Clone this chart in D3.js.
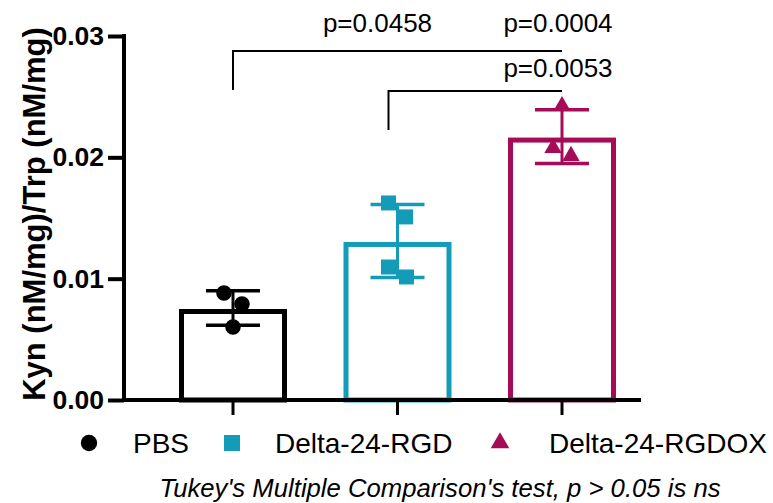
<!DOCTYPE html>
<html>
<head>
<meta charset="utf-8">
<script src="https://cdn.jsdelivr.net/npm/d3@7"></script>
<style>
  body { margin: 0; background: #fff; }
  svg { display: block; }
  text { font-family: "Liberation Sans", Arial, sans-serif; }
</style>
</head>
<body>
<div id="chart"></div>
<script>
// data
var groups = ["PBS", "Delta-24-RGD", "Delta-24-RGDOX"];
var pbsValues = [0.00882, 0.00791, 0.00602];
var rgdValues = [0.01624, 0.01509, 0.01096, 0.01014];
var rgdoxValues = [0.02424, 0.02077, 0.02012];
var yTicks = [0, 0.01, 0.02, 0.03];
var yLabels = ["0.00", "0.01", "0.02", "0.03"];
var pLabels = ["p=0.0458", "p=0.0004", "p=0.0053"];
var footnote = "Tukey's Multiple Comparison's test, p > 0.05 is ns";
var yTitle = "Kyn (nM/mg)/Trp (nM/mg)";

var colors = ["#000000", "#139bb7", "#a50b56"];
var shapes = [d3.symbolCircle, d3.symbolSquare, d3.symbolTriangle];
var jitter = [[-1, 1, 0], [-1, 0.9, -1, 1], [0, -1, 1]]; // horizontal scatter, in units of jitterStep

var width = 773, height = 503;
var jitterStep = 9;
var barWidth = 103;
var barStroke = 5;

var allValues = [pbsValues, rgdValues, rgdoxValues];
var stats = allValues.map(function(v, i) {
    return { name: groups[i], values: v, mean: d3.mean(v), sd: d3.deviation(v), color: colors[i], shape: shapes[i] };
});

var svg = d3.select('#chart').append('svg')
    .attr('width', width)
    .attr('height', height);

var x = d3.scalePoint().domain(groups).range([233, 562]);
var y = d3.scaleLinear().domain([0, 0.03]).range([400, 36]);

// bars (open rectangles, stroke kept inside the value)
svg.selectAll('rect.bar')
    .data(stats)
    .enter().append('rect')
    .attr('class', 'bar')
    .attr('x', function(d) { return x(d.name) - barWidth / 2; })
    .attr('y', function(d) { return y(d.mean) + barStroke / 2 + 1; })
    .attr('width', barWidth)
    .attr('height', function(d) { return y(0) - y(d.mean) - barStroke / 2 - 1; })
    .attr('fill', 'none')
    .attr('stroke', function(d) { return d.color; })
    .attr('stroke-width', barStroke);

// error bars (mean +/- SD)
stats.forEach(function(d) {
    var cx = x(d.name);
    var g = svg.append('g').attr('stroke', d.color);
    g.append('line')
        .attr('x1', cx).attr('x2', cx)
        .attr('y1', y(d.mean + d.sd)).attr('y2', y(d.mean - d.sd))
        .attr('stroke-width', 3);
    [d.mean + d.sd, d.mean - d.sd].forEach(function(v) {
        g.append('line')
            .attr('x1', cx - 27).attr('x2', cx + 27)
            .attr('y1', y(v)).attr('y2', y(v))
            .attr('stroke-width', 3.5);
    });
});

// individual points
stats.forEach(function(d, gi) {
    svg.selectAll(null)
        .data(d.values)
        .enter().append('path')
        .attr('d', d3.symbol().type(d.shape).size(gi === 2 ? 130 : (gi === 1 ? 225 : 190)))
        .attr('transform', function(v, i) {
            return 'translate(' + (x(d.name) + jitter[gi][i] * jitterStep) + ',' + y(v) + ')';
        })
        .attr('fill', d.color);
});

// y axis
var yAxis = svg.append('g')
    .attr('transform', 'translate(124,0)')
    .call(d3.axisLeft(y).tickValues(yTicks).tickSize(16).tickSizeOuter(0)
        .tickFormat(function(d, i) { return yLabels[i]; }));
yAxis.select('.domain').attr('stroke-width', 4).attr('d', 'M0,' + (y(0.03) - 2) + 'V' + (y(0) + 2));
yAxis.selectAll('.tick line').attr('stroke-width', 4);
yAxis.selectAll('.tick text')
    .attr('x', -20)
    .attr('font-family', '"Liberation Sans", Arial, sans-serif')
    .attr('font-size', 26.5)
    .attr('font-weight', 'bold')
    .attr('fill', '#000');

// x axis
svg.append('line')
    .attr('x1', 122).attr('x2', 641)
    .attr('y1', y(0)).attr('y2', y(0))
    .attr('stroke', '#000')
    .attr('stroke-width', 4);
svg.selectAll('line.xtick')
    .data(groups)
    .enter().append('line')
    .attr('class', 'xtick')
    .attr('x1', function(d) { return x(d); }).attr('x2', function(d) { return x(d); })
    .attr('y1', y(0)).attr('y2', y(0) + 15)
    .attr('stroke', '#000')
    .attr('stroke-width', 3);

// y title
svg.append('text')
    .attr('transform', 'translate(45,' + 214 + ') rotate(-90)')
    .attr('text-anchor', 'middle')
    .attr('font-size', 31)
    .attr('font-weight', 'bold')
    .text(yTitle);

// significance brackets
var bracketTop = [51, 91];
var bracketPairs = [["PBS", "Delta-24-RGDOX"], ["Delta-24-RGD", "Delta-24-RGDOX"]];
bracketPairs.forEach(function(p, i) {
    var x0 = x(p[0]) - (i === 1 ? 9 : 0);
    var x1 = x(p[1]);
    svg.append('path')
        .attr('d', 'M' + x0 + ',' + (bracketTop[i] + 39) + 'V' + bracketTop[i] + 'H' + x1)
        .attr('fill', 'none')
        .attr('stroke', '#000')
        .attr('stroke-width', 2);
});
var pLabelPos = [
    [(x("PBS") + x("Delta-24-RGDOX")) / 2 - 20, 32],
    [x("Delta-24-RGDOX") - 4, 32],
    [x("Delta-24-RGDOX") - 4, 77]
];
svg.selectAll('text.plabel')
    .data(pLabels)
    .enter().append('text')
    .attr('class', 'plabel')
    .attr('x', function(d, i) { return pLabelPos[i][0]; })
    .attr('y', function(d, i) { return pLabelPos[i][1]; })
    .attr('text-anchor', 'middle')
    .attr('font-size', 26)
    .text(function(d) { return d; });

// legend
var legendX = [[89, 133], [232, 275], [500, 549]];
var legend = svg.selectAll('g.legend')
    .data(stats)
    .enter().append('g')
    .attr('class', 'legend');
legend.append('path')
    .attr('d', function(d, i) { return d3.symbol().type(d.shape).size(i === 2 ? 150 : (i === 1 ? 256 : 210))(); })
    .attr('transform', function(d, i) { return 'translate(' + legendX[i][0] + ',443)'; })
    .attr('fill', function(d) { return d.color; });
legend.append('text')
    .attr('x', function(d, i) { return legendX[i][1]; })
    .attr('y', 453)
    .attr('font-size', 28)
    .text(function(d) { return d.name; });

// footnote
svg.append('text')
    .attr('x', 440)
    .attr('y', 497)
    .attr('text-anchor', 'middle')
    .attr('font-size', 25.7)
    .attr('font-style', 'italic')
    .text(footnote);
</script>
</body>
</html>
